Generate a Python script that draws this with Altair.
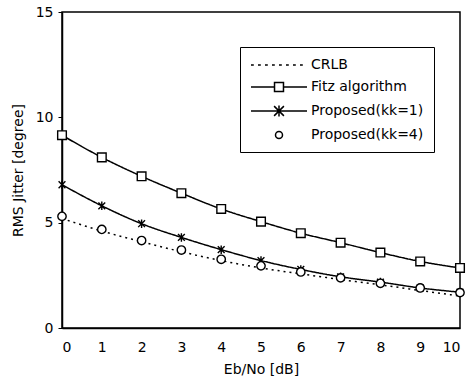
import altair as alt
import pandas as pd

ebno = [0, 1, 2, 3, 4, 5, 6, 7, 8, 9, 10]
crlb = [5.2, 4.6, 4.1, 3.62, 3.2, 2.85, 2.57, 2.3, 2.05, 1.78, 1.52]
fitz = [9.15, 8.1, 7.2, 6.4, 5.65, 5.05, 4.5, 4.05, 3.58, 3.16, 2.85]
kk1 = [6.8, 5.8, 4.95, 4.3, 3.72, 3.2, 2.78, 2.43, 2.18, 1.9, 1.7]
kk4 = [5.3, 4.68, 4.15, 3.7, 3.26, 2.95, 2.66, 2.38, 2.12, 1.9, 1.68]

names = ["CRLB", "Fitz algorithm", "Proposed(kk=1)", "Proposed(kk=4)"]
series = [crlb, fitz, kk1, kk4]

rows = []
for n, vals in zip(names, series):
    for x, y in zip(ebno, vals):
        rows.append({"series": n, "x": x, "y": y})
df = pd.DataFrame(rows)

FONT = "DejaVu Sans"

xenc = alt.X("x:Q", scale=alt.Scale(domain=[0, 10], nice=False),
             axis=alt.Axis(values=list(range(11)), title="Eb/No [dB]", format="d"))
yenc = alt.Y("y:Q", scale=alt.Scale(domain=[0, 15], nice=False),
             axis=alt.Axis(values=[0, 5, 10, 15], title="RMS Jitter [degree]"))

base = alt.Chart(df)

lines = base.transform_filter(alt.datum.series != "Proposed(kk=4)").mark_line(
    color="black", strokeWidth=1.5, interpolate="monotone"
).encode(
    x=xenc, y=yenc,
    detail="series:N",
    strokeDash=alt.StrokeDash("series:N", legend=None,
                              scale=alt.Scale(domain=["CRLB", "Fitz algorithm", "Proposed(kk=1)"],
                                              range=[[2, 4], [1, 0], [1, 0]])),
)

asterisk = "M-0.8,-0.8L0.8,0.8M-0.8,0.8L0.8,-0.8M0,-1V1"
markers = base.transform_filter(alt.datum.series != "CRLB").mark_point(
    filled=True, fill="white", stroke="black", strokeWidth=1.4, opacity=1
).encode(
    x=xenc, y=yenc,
    shape=alt.Shape("series:N", legend=None,
                    scale=alt.Scale(domain=["Fitz algorithm", "Proposed(kk=1)", "Proposed(kk=4)"],
                                    range=["square", asterisk, "circle"])),
    size=alt.Size("series:N", legend=None,
                  scale=alt.Scale(domain=["Fitz algorithm", "Proposed(kk=1)", "Proposed(kk=4)"],
                                  range=[75, 70, 50])),
)

# legend symbols: 1 unit = 7 px, marker centred at x = 3 units
dots = "".join(f"M{-1 + i},0H{-1 + i + 0.4:.1f}" for i in range(8))
leg_paths = [
    dots,
    "M-1,0H2.36M3.64,0H7M2.36,-0.64H3.64V0.64H2.36Z",
    "M-1,0H7M2.3,-0.7L3.7,0.7M2.3,0.7L3.7,-0.7M3,-0.8V0.8",
    "M2.5,0A0.5,0.5 0 1,1 3.5,0A0.5,0.5 0 1,1 2.5,0Z",
]
legend_layer = base.transform_filter("false").transform_calculate(
    legend="datum.series"
).mark_point(filled=False, color="black", opacity=1).encode(
    x=xenc, y=yenc,
    shape=alt.Shape("legend:N",
                    scale=alt.Scale(domain=names, range=leg_paths),
                    legend=alt.Legend(
                        title=None, orient="none", legendX=178, legendY=35,
                        symbolSize=196, symbolStrokeColor="black", symbolFillColor="white",
                        symbolStrokeWidth=1.5, symbolOpacity=1,
                        labelFont=FONT, labelFontSize=14, labelColor="black",
                        labelOffset=45, rowPadding=7, padding=10,
                        strokeColor="black", fillColor="white",
                    )),
)

chart = alt.layer(lines, markers, legend_layer).resolve_scale(
    shape="independent", size="independent", strokeDash="independent"
).properties(
    width=398, height=316,
    padding={"left": 62, "top": 12, "right": 11, "bottom": 55},
    autosize=alt.AutoSizeParams(type="none"),
    background="white",
).configure_view(
    stroke="black", strokeWidth=1.5
).configure_axis(
    grid=False, domainColor="black", domainWidth=1.5,
    labelFont=FONT, labelFontSize=14, labelColor="black",
    titleFont=FONT, titleFontSize=14, titleFontWeight="normal", titleColor="black",
    tickColor="black",
).configure_axisX(
    ticks=False, labelPadding=12, titlePadding=8,
).configure_axisY(
    ticks=True, tickSize=4, labelPadding=5, titlePadding=10,
)

chart.save("out.html", embed_options={"renderer": "svg", "actions": False})
